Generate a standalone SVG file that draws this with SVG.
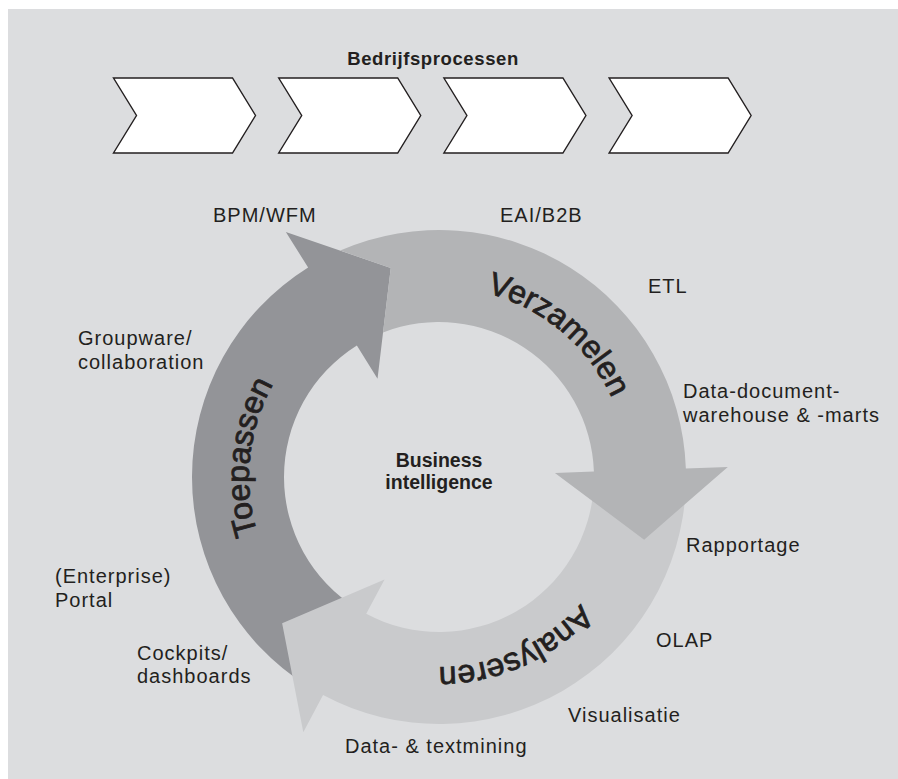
<svg xmlns="http://www.w3.org/2000/svg" xmlns:xlink="http://www.w3.org/1999/xlink" width="898" height="779" viewBox="0 0 898 779">
  <style>
    .lbl { font-family: "Liberation Sans", Arial, sans-serif; font-size: 20px; letter-spacing: 1px; fill: #231f20; }
    .bold { font-family: "Liberation Sans", Arial, sans-serif; font-weight: bold; fill: #231f20; }
    .phase { font-family: "Liberation Sans", Arial, sans-serif; font-size: 32px; fill: #231f20; stroke: #231f20; stroke-width: 0.8px; }
    .chev { fill: #ffffff; stroke: #231f20; stroke-width: 1.4; stroke-linejoin: miter; }
  </style>
  <defs>
    <!-- one process step: notched chevron -->
    <polygon id="chevron" points="0,78 119,78 142,115.5 119,153 0,153 23,115.5"/>
    <!-- baselines (r = 190) for the three phase names, all clockwise -->
    <path id="pVerz" d="M 316.87 331.45 A 190 190 0 0 1 603.55 572"/>
    <path id="pToep" d="M 386.63 659.64 A 190 190 0 0 1 425.75 287.46"/>
    <path id="pAnal" d="M 623.36 431.04 A 190 190 0 0 1 281.48 583.25"/>
  </defs>

  <rect x="0" y="0" width="898" height="779" fill="#ffffff"/>
  <rect x="8" y="9" width="890" height="770" fill="#dcdddf"/>

  <!-- business process chain -->
  <g id="processes">
    <text class="bold" x="433" y="65" font-size="18.5" letter-spacing="0.6" text-anchor="middle">Bedrijfsprocessen</text>
    <use xlink:href="#chevron" class="chev" x="113.5"/>
    <use xlink:href="#chevron" class="chev" x="278.7"/>
    <use xlink:href="#chevron" class="chev" x="443.9"/>
    <use xlink:href="#chevron" class="chev" x="609.1"/>
  </g>

  <!-- BI cycle: three curved arrows around centre (439,477) -->
  <g id="connectors">
    <g id="toepassen">
      <path fill="#939498" d="M 308.11 686.47 A 247 247 0 0 1 308.11 267.53 L 285.85 231.91 L 390.75 268 L 377.53 378.63 L 356.86 345.55 A 155 155 0 0 0 356.86 608.45 Z"/>
      <text class="phase"><textPath xlink:href="#pToep" startOffset="50%" text-anchor="middle">Toepassen</textPath></text>
    </g>
    <g id="analyseren">
      <path fill="#c9cacc" d="M 685.85 485.62 A 247 247 0 0 1 323.04 695.09 L 303.32 732.17 L 282.13 623.29 L 384.54 579.42 L 366.23 613.86 A 155 155 0 0 0 593.91 482.41 Z"/>
      <text class="phase"><textPath xlink:href="#pAnal" startOffset="50%" text-anchor="middle">Analyseren</textPath></text>
    </g>
    <g id="verzamelen">
      <path fill="#b3b4b6" d="M 340.2 250.6 A 247 247 0 0 1 685.85 468.38 L 727.82 466.91 L 644.13 539.71 L 554.93 472.95 L 593.91 471.59 A 155 155 0 0 0 383 332.5 L 390.75 268 Z"/>
      <text class="phase"><textPath xlink:href="#pVerz" startOffset="50%" text-anchor="middle">Verzamelen</textPath></text>
    </g>
  </g>

  <g id="centre">
    <text class="bold" font-size="19.5" text-anchor="middle"><tspan x="439" y="466.5">Business</tspan><tspan x="439" y="489">intelligence</tspan></text>
  </g>

  <!-- tools around the cycle -->
  <g id="bpm"><text class="lbl" x="213" y="222">BPM/WFM</text></g>
  <g id="eai"><text class="lbl" x="500" y="222">EAI/B2B</text></g>
  <g id="etl"><text class="lbl" x="648" y="293">ETL</text></g>
  <g id="groupware"><text class="lbl"><tspan x="78" y="345">Groupware/</tspan><tspan x="78" y="369">collaboration</tspan></text></g>
  <g id="warehouse"><text class="lbl"><tspan x="683" y="398">Data-document-</tspan><tspan x="683" y="421.5">warehouse &amp; -marts</tspan></text></g>
  <g id="portal"><text class="lbl"><tspan x="55" y="583">(Enterprise)</tspan><tspan x="55" y="607">Portal</tspan></text></g>
  <g id="rapportage"><text class="lbl" x="686" y="552">Rapportage</text></g>
  <g id="olap"><text class="lbl" x="656" y="647">OLAP</text></g>
  <g id="visualisatie"><text class="lbl" x="568" y="722">Visualisatie</text></g>
  <g id="mining"><text class="lbl" x="345" y="753">Data- &amp; textmining</text></g>
  <g id="cockpits"><text class="lbl"><tspan x="137" y="660">Cockpits/</tspan><tspan x="137" y="683">dashboards</tspan></text></g>
</svg>
